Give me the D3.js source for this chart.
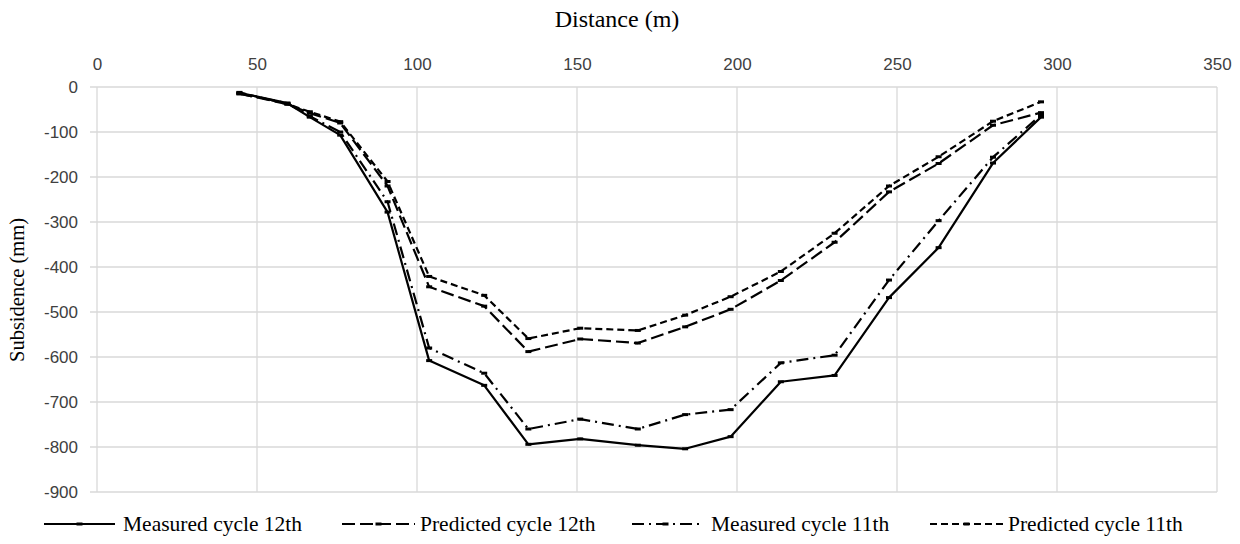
<!DOCTYPE html>
<html>
<head>
<meta charset="utf-8">
<script src="https://cdn.jsdelivr.net/npm/d3@7"></script>
<style>
  body { margin: 0; background: #fff; }
  svg { display: block; }
</style>
</head>
<body>
<script>
// distances along the profile (m)
const distance = [44.5, 59.5, 66.5, 76, 90.8, 103.8, 121, 134.8, 151, 169, 183.8, 198, 213.7, 230.5, 247.5, 263, 280, 295]

// subsidence (mm)
const measured12 = [-13, -36, -67, -107, -278, -608, -663, -794, -782, -796, -804, -777, -655, -641, -468, -357, -169, -67]
const predicted12 = [-15, -38, -58, -80, -220, -444, -487, -588, -560, -569, -533, -494, -430, -345, -233, -170, -85, -57]
const measured11 = [-15, -36, -65, -100, -255, -580, -636, -760, -738, -760, -728, -717, -613, -596, -429, -297, -156, -62]
const predicted11 = [-12, -38, -55, -77, -210, -421, -463, -559, -536, -541, -507, -466, -410, -325, -220, -155, -76, -33]

const xTicks = [0, 50, 100, 150, 200, 250, 300, 350]
const yTicks = [0, -100, -200, -300, -400, -500, -600, -700, -800, -900]

const seriesNames = ["Measured cycle 12th", "Predicted cycle 12th", "Measured cycle 11th", "Predicted cycle 11th"]
const seriesValues = [measured12, predicted12, measured11, predicted11]
const dashes = [null, "13,5", "12,5,2,5", "7,4"]

const W = 1240, H = 544
const plotL = 97, plotR = 1217, plotT = 87, plotB = 492
const serif = "'Liberation Serif', 'Times New Roman', serif"
const sans = "'Liberation Sans', Arial, sans-serif"

const svg = d3.select("body").append("svg")
  .attr("width", W)
  .attr("height", H)

const x = d3.scaleLinear().domain([0, 350]).range([plotL, plotR])
const y = d3.scaleLinear().domain([0, -900]).range([plotT, plotB])

// grid
svg.append("g")
  .selectAll("line")
  .data(xTicks)
  .enter().append("line")
    .attr("x1", d => x(d)).attr("x2", d => x(d))
    .attr("y1", plotT).attr("y2", plotB)
    .attr("stroke", "#d9d9d9").attr("stroke-width", 1.3)

svg.append("g")
  .selectAll("line")
  .data(yTicks)
  .enter().append("line")
    .attr("x1", plotL - 7).attr("x2", plotR)
    .attr("y1", d => y(d)).attr("y2", d => y(d))
    .attr("stroke", "#d9d9d9").attr("stroke-width", 1.3)

// tick labels via d3 axes (plain hyphen for negatives)
const xAxis = svg.append("g")
  .attr("transform", `translate(0,${plotT - 12})`)
  .call(d3.axisTop(x).tickValues(xTicks).tickFormat(d => String(d)).tickSize(0).tickPadding(5))
xAxis.select(".domain").remove()
xAxis.selectAll("text")
  .attr("font-family", sans)
  .attr("font-size", 17)
  .attr("fill", "#404040")

const yAxis = svg.append("g")
  .attr("transform", `translate(${plotL - 19},0)`)
  .call(d3.axisLeft(y).tickValues(yTicks).tickFormat(d => String(d)).tickSize(0).tickPadding(0))
yAxis.select(".domain").remove()
yAxis.selectAll("text")
  .attr("font-family", sans)
  .attr("font-size", 17)
  .attr("fill", "#404040")

// titles
svg.append("text")
  .attr("x", 617).attr("y", 27)
  .attr("text-anchor", "middle")
  .attr("font-family", serif)
  .attr("font-size", 24)
  .text("Distance (m)")

svg.append("text")
  .attr("transform", `translate(24,290) rotate(-90)`)
  .attr("text-anchor", "middle")
  .attr("font-family", serif)
  .attr("font-size", 20.5)
  .text("Subsidence (mm)")

// lines
const line = d3.line()
  .x((d, i) => x(distance[i]))
  .y(d => y(d))

seriesValues.forEach((vals, k) => {
  svg.append("path")
    .datum(vals)
    .attr("d", line)
    .attr("fill", "none")
    .attr("stroke", "#000")
    .attr("stroke-width", 2.2)
    .attr("stroke-linejoin", "round")
    .attr("stroke-dasharray", dashes[k])

  svg.append("g")
    .selectAll("rect")
    .data(vals)
    .enter().append("rect")
      .attr("x", (d, i) => x(distance[i]) - 3)
      .attr("y", d => y(d) - 1.5)
      .attr("width", 6).attr("height", 3)
      .attr("fill", "#000")
})

// legend
const legendLine = [[44, 115], [342, 415], [632, 699], [930, 1003]]
const legendText = [123, 420, 711, 1008]
const ly = 524

seriesNames.forEach((name, k) => {
  const [a, b] = legendLine[k]
  svg.append("line")
    .attr("x1", a).attr("x2", b)
    .attr("y1", ly).attr("y2", ly)
    .attr("stroke", "#000")
    .attr("stroke-width", 2.2)
    .attr("stroke-dasharray", dashes[k])
  svg.append("rect")
    .attr("x", (a + b) / 2 - 3).attr("y", ly - 1.5)
    .attr("width", 6).attr("height", 3)
    .attr("fill", "#000")
  svg.append("text")
    .attr("x", legendText[k]).attr("y", ly + 7)
    .attr("font-family", serif)
    .attr("font-size", 21.5)
    .text(name)
})
</script>
</body>
</html>
